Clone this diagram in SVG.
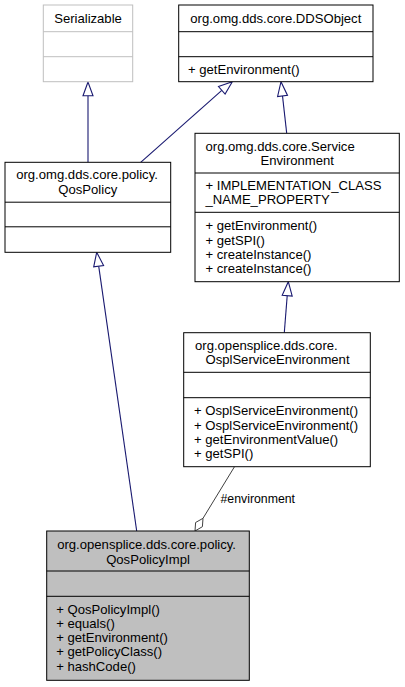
<svg xmlns="http://www.w3.org/2000/svg" width="405" height="687" viewBox="0 0 405 687">
<style>
  text { font-family: "Liberation Sans", Arial, sans-serif; font-size: 13.1px; fill: #000; }
  .c { text-anchor: middle; }
  .box { fill: #fff; stroke: #000; stroke-width: 1; }
  .ext { fill: #fff; stroke: #bfbfbf; stroke-width: 1; }
  .cur { fill: #bfbfbf; stroke: #000; stroke-width: 1; }
  .div { stroke: #000; stroke-width: 1; }
  .divx { stroke: #bfbfbf; stroke-width: 1; }
  .inh { stroke: #191970; stroke-width: 1.1; fill: none; }
  .inhhead { stroke: #191970; stroke-width: 1.1; fill: #fff; }
  .agg { stroke: #404040; stroke-width: 1; fill: none; }
  .agghead { stroke: #404040; stroke-width: 1; fill: #fff; }
  .lbl { font-size: 12.3px; }
</style>
<rect width="405" height="687" fill="#fff"/>

<g id="connectors">
  <!-- QosPolicy -> Serializable -->
  <line class="inh" x1="88" y1="95.7" x2="88" y2="162.3"/>
  <polygon class="inhhead" points="88,82 83,95.7 93,95.7"/>
  <!-- QosPolicy -> DDSObject -->
  <line class="inh" x1="140.7" y1="162.3" x2="221.8" y2="90.3"/>
  <polygon class="inhhead" points="232.3,81.7 225.1,94.1 218.5,86.6"/>
  <!-- ServiceEnvironment -> DDSObject -->
  <line class="inh" x1="286.7" y1="133.3" x2="282.5" y2="95.9"/>
  <polygon class="inhhead" points="281,81.7 287.5,95.4 277.6,96.5"/>
  <!-- OsplServiceEnvironment -> ServiceEnvironment -->
  <line class="inh" x1="284.3" y1="332.7" x2="287.2" y2="295.7"/>
  <polygon class="inhhead" points="288.3,281.7 292.2,296.1 282.2,295.3"/>
  <!-- QosPolicyImpl -> QosPolicy -->
  <line class="inh" x1="136.7" y1="531" x2="98.7" y2="266.2"/>
  <polygon class="inhhead" points="96.7,252.3 103.6,265.5 93.7,266.9"/>
  <!-- aggregation #environment -->
  <line class="agg" x1="234.5" y1="466.7" x2="203" y2="518.3"/>
  <polygon class="agghead" points="195,531 195.6,522.5 203,518.3 202.4,526.7"/>
  <text class="lbl" x="220.5" y="503">#environment</text>
</g>

<g id="node-serializable">
  <rect class="ext" x="43.3" y="5" width="89.4" height="76.7"/>
  <line class="divx" x1="43.3" y1="31.7" x2="132.7" y2="31.7"/>
  <line class="divx" x1="43.3" y1="56.7" x2="132.7" y2="56.7"/>
  <text class="c" x="88" y="23">Serializable</text>
</g>

<g id="node-ddsobject">
  <rect class="box" x="178.7" y="5" width="194.3" height="76.7"/>
  <line class="div" x1="178.7" y1="31.7" x2="373" y2="31.7"/>
  <line class="div" x1="178.7" y1="56.7" x2="373" y2="56.7"/>
  <text class="c" x="275.8" y="23">org.omg.dds.core.DDSObject</text>
  <text x="188" y="73.7">+ getEnvironment()</text>
</g>

<g id="node-qospolicy">
  <rect class="box" x="5" y="162.3" width="165.7" height="90"/>
  <line class="div" x1="5" y1="202.2" x2="170.7" y2="202.2"/>
  <line class="div" x1="5" y1="226.8" x2="170.7" y2="226.8"/>
  <text x="16.2" y="179.3">org.omg.dds.core.policy.</text>
  <text class="c" x="87.8" y="193.6">QosPolicy</text>
</g>

<g id="node-serviceenvironment">
  <rect class="box" x="195" y="133.3" width="204.3" height="148.4"/>
  <line class="div" x1="195" y1="173" x2="399.3" y2="173"/>
  <line class="div" x1="195" y1="212.3" x2="399.3" y2="212.3"/>
  <text x="205.5" y="151.1">org.omg.dds.core.Service</text>
  <text class="c" x="297.2" y="165.4">Environment</text>
  <text x="205.5" y="189.6">+ IMPLEMENTATION_CLASS</text>
  <text x="205.5" y="203.9">_NAME_PROPERTY</text>
  <text x="205.5" y="230.2">+ getEnvironment()</text>
  <text x="205.5" y="244.5">+ getSPI()</text>
  <text x="205.5" y="258.8">+ createInstance()</text>
  <text x="205.5" y="273.1">+ createInstance()</text>
</g>

<g id="node-osplserviceenvironment">
  <rect class="box" x="183.7" y="332.7" width="186.6" height="134"/>
  <line class="div" x1="183.7" y1="372.3" x2="370.3" y2="372.3"/>
  <line class="div" x1="183.7" y1="397.7" x2="370.3" y2="397.7"/>
  <text x="195" y="350">org.opensplice.dds.core.</text>
  <text class="c" x="277.5" y="364.3">OsplServiceEnvironment</text>
  <text x="194" y="415.4">+ OsplServiceEnvironment()</text>
  <text x="194" y="429.7">+ OsplServiceEnvironment()</text>
  <text x="194" y="444">+ getEnvironmentValue()</text>
  <text x="194" y="458.3">+ getSPI()</text>
</g>

<g id="node-qospolicyimpl">
  <rect class="cur" x="46.7" y="531" width="202.6" height="149.3"/>
  <line class="div" x1="46.7" y1="571" x2="249.3" y2="571"/>
  <line class="div" x1="46.7" y1="596.3" x2="249.3" y2="596.3"/>
  <text x="57.2" y="549.3">org.opensplice.dds.core.policy.</text>
  <text class="c" x="148" y="563.6">QosPolicyImpl</text>
  <text x="56.2" y="613.5">+ QosPolicyImpl()</text>
  <text x="56.2" y="627.8">+ equals()</text>
  <text x="56.2" y="642.1">+ getEnvironment()</text>
  <text x="56.2" y="656.4">+ getPolicyClass()</text>
  <text x="56.2" y="670.7">+ hashCode()</text>
</g>
</svg>
